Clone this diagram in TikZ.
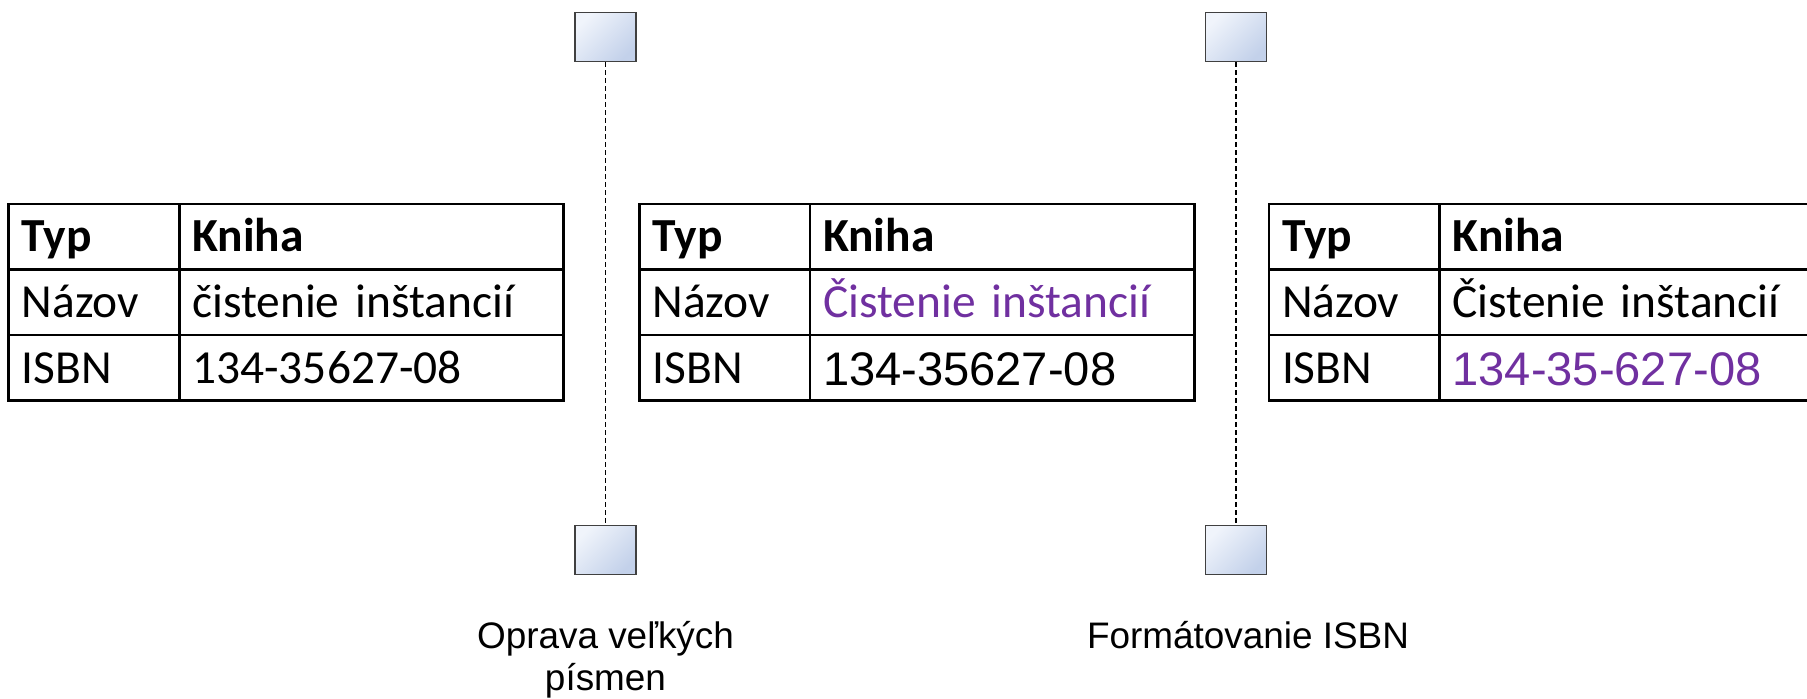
\documentclass[tikz,border=0pt]{standalone}
\usepackage{fontspec}
\setmainfont{Carlito}
\newfontfamily\arialfont{Liberation Sans}
\usetikzlibrary{positioning}

\definecolor{changed}{HTML}{7030A0}
\definecolor{boxlight}{HTML}{F0F4FB}
\definecolor{boxdark}{HTML}{C3D1EA}
\definecolor{boxedge}{HTML}{404040}

\begin{document}
\begin{tikzpicture}[
    cell/.style={rectangle, draw, line width=0.8pt, outer sep=0pt, inner xsep=0.13cm, inner ysep=0pt,
                 minimum height=0.655cm, text height=0.305cm, text depth=0pt, align=left,
                 anchor=north west, font=\fontsize{13.5}{16}\selectfont},
    keycell/.style={cell, text width=1.445cm},
    valcell/.style={cell, text width=3.585cm},
    head/.style={font=\fontsize{13.5}{16}\selectfont\bfseries},
    isbn/.style={font=\arialfont\fontsize{13.4}{16}\selectfont, text height=0.35cm},
    lifebox/.style={rectangle, draw=boxedge, line width=0.4pt, minimum width=0.61cm, minimum height=0.49cm,
                    top color=boxlight, bottom color=boxdark, shading angle=45},
    lifeline/.style={line width=0.35pt, dash pattern=on 0.05cm off 0.03cm},
    steplabel/.style={inner sep=0pt, align=center, font=\arialfont\fontsize{10.5}{12.1}\selectfont}
]
\useasboundingbox (0,0) rectangle (18.07,6.98);

% tabulky: hlavicka a prvy stlpec
\foreach \t/\x in {1/0.087, 2/6.395, 3/12.69} {
    \node[keycell, head] (typ\t) at (\x, 4.94) {Typ};
    \node[valcell, head] (kniha\t) [right=0pt of typ\t] {Kniha};
    \node[keycell] (nazov\t) [below=0pt of typ\t] {Názov};
    \node[keycell] (isbn\t) [below=0pt of nazov\t] {ISBN};
}

% hodnoty
\node[valcell] (titul1) [right=0pt of nazov1] {čistenie inštancií};
\node[valcell] (cislo1) [right=0pt of isbn1] {134-35627-08};
\node[valcell, text=changed] (titul2) [right=0pt of nazov2] {Čistenie inštancií};
\node[valcell, isbn] (cislo2) [right=0pt of isbn2] {134-35627-08};
\node[valcell] (titul3) [right=0pt of nazov3] {Čistenie inštancií};
\node[valcell, isbn, text=changed] (cislo3) [right=0pt of isbn3] {134-35-627-08};

% kroky
\foreach \s/\x in {1/6.055, 2/12.36} {
    \node[lifebox] (top\s) at (\x, 6.608) {};
    \node[lifebox] (bot\s) at (\x, 1.4815) {};
    \draw[lifeline] (top\s) -- (bot\s);
}
\node[steplabel] (oprava) [below=0.455cm of bot1] {Oprava veľkých\\písmen};
\node[steplabel] (format) [below=0.455cm of bot2, xshift=0.12cm] {Formátovanie ISBN};
\end{tikzpicture}
\end{document}
